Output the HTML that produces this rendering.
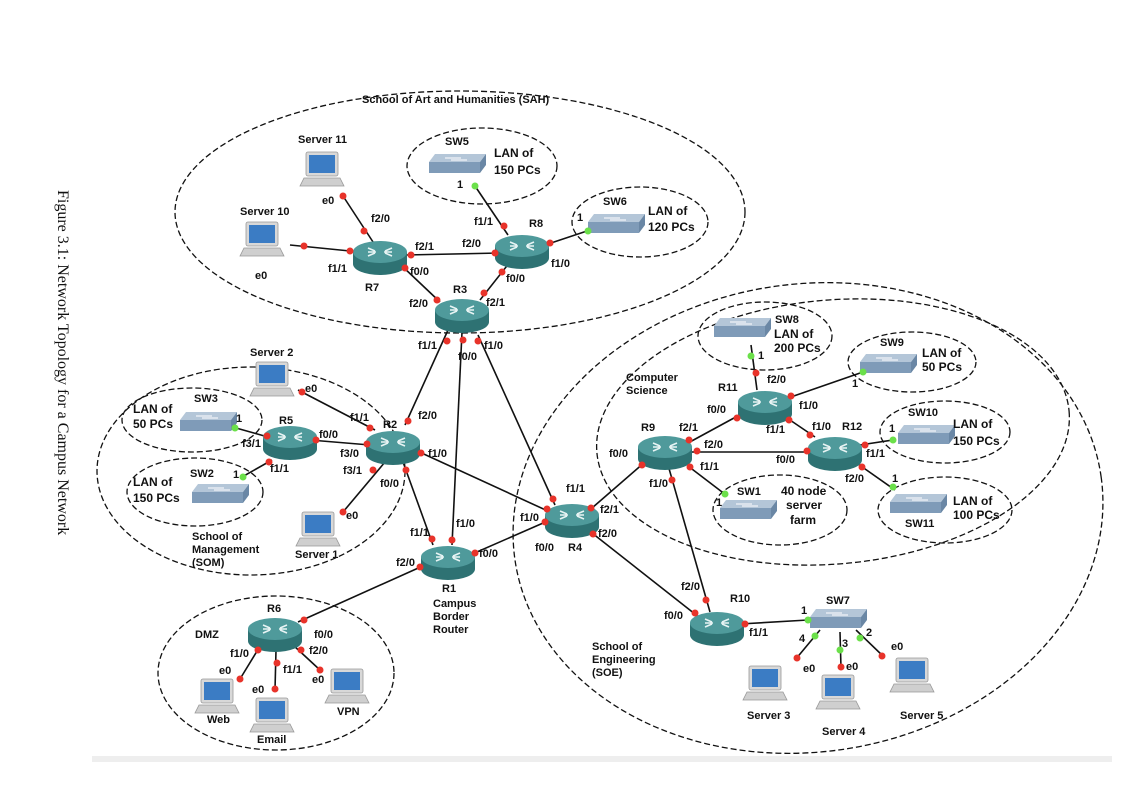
<!DOCTYPE html>
<html><head><meta charset="utf-8"><style>
body{margin:0;background:#fff}
svg{display:block}
text{font-family:"Liberation Sans",sans-serif;font-weight:bold;font-size:11px;fill:#111}
.e{fill:none;stroke:#111;stroke-width:1.3;stroke-dasharray:6 3}
.l{stroke:#111;stroke-width:1.6}
.r{fill:#e8332a}
.g{fill:#6be04a}
</style></head><body>
<svg width="1138" height="798" viewBox="0 0 1138 798" xmlns="http://www.w3.org/2000/svg">
<defs>
<g id="rt">
<path d="M-27,-3 v12 a27,11 0 0 0 54,0 v-12z" fill="#2e7273"/>
<ellipse cx="0" cy="-3" rx="27" ry="11" fill="#4f9a9b"/>
<path d="M-12,-7 l7,3 M-12,1 l7,-3 M12,-7 l-7,3 M12,1 l-7,-3 M-4,-3h-8 M4,-3h8" stroke="#e8f4f4" stroke-width="1.6"/>
</g>
<g id="sw">
<path d="M-28,-2 h51 l6,-8 h-51z" fill="#b4c6d8"/>
<path d="M-28,-2 h51 v11 h-51z" fill="#7f9bb8"/>
<path d="M23,-2 l6,-8 v11 l-6,8z" fill="#6a87a5"/>
<path d="M-12,-6 h16 M-6,-4 h16" stroke="#fff" stroke-width="1"/>
</g>
<g id="pc">
<rect x="-16" y="-14" width="32" height="24" rx="2" fill="#d8d8d8" stroke="#999" stroke-width=".8"/>
<rect x="-13" y="-11" width="26" height="18" fill="#3b7cc4"/>
<path d="M-18,12 h36 l4,8 h-44z" fill="#cfcfcf" stroke="#999" stroke-width=".8"/>
</g>
</defs>
<rect x="92" y="756" width="1020" height="6" fill="#eeeeee"/>
<text transform="translate(58,190) rotate(90)" style="font-family:'Liberation Serif',serif;font-weight:normal;font-size:16px">Figure 3.1: Network Topology for a Campus Network</text>

<ellipse class="e" cx="460" cy="212" rx="285" ry="121"/>
<ellipse class="e" cx="251" cy="471" rx="154" ry="104"/>
<ellipse class="e" cx="276" cy="673" rx="118" ry="77"/>
<ellipse class="e" cx="808" cy="518" rx="296" ry="234" transform="rotate(-8 808 518)"/>
<ellipse class="e" cx="833" cy="432" rx="237" ry="132" transform="rotate(-5 833 432)"/>
<ellipse class="e" cx="482" cy="166" rx="75" ry="38"/>
<ellipse class="e" cx="640" cy="222" rx="68" ry="35"/>
<ellipse class="e" cx="192" cy="420" rx="70" ry="32"/>
<ellipse class="e" cx="195" cy="492" rx="68" ry="34"/>
<ellipse class="e" cx="765" cy="336" rx="67" ry="34"/>
<ellipse class="e" cx="912" cy="362" rx="64" ry="30"/>
<ellipse class="e" cx="945" cy="432" rx="65" ry="31"/>
<ellipse class="e" cx="945" cy="510" rx="67" ry="33"/>
<ellipse class="e" cx="780" cy="510" rx="67" ry="35"/>

<g class="l">
<line x1="343" y1="196" x2="375" y2="245"/>
<line x1="290" y1="245" x2="360" y2="252"/>
<line x1="405" y1="255" x2="500" y2="253"/>
<line x1="402" y1="266" x2="440" y2="302"/>
<line x1="475" y1="186" x2="508" y2="235"/>
<line x1="545" y1="245" x2="590" y2="230"/>
<line x1="510" y1="262" x2="480" y2="300"/>
<line x1="448" y1="330" x2="405" y2="425"/>
<line x1="462" y1="332" x2="452" y2="545"/>
<line x1="478" y1="335" x2="555" y2="505"/>
<line x1="310" y1="440" x2="370" y2="445"/>
<line x1="415" y1="450" x2="550" y2="512"/>
<line x1="298" y1="390" x2="375" y2="430"/>
<line x1="343" y1="512" x2="385" y2="462"/>
<line x1="236" y1="428" x2="268" y2="437"/>
<line x1="242" y1="477" x2="272" y2="460"/>
<line x1="403" y1="462" x2="433" y2="545"/>
<line x1="470" y1="555" x2="550" y2="520"/>
<line x1="425" y1="565" x2="298" y2="622"/>
<line x1="240" y1="679" x2="262" y2="643"/>
<line x1="275" y1="690" x2="276" y2="650"/>
<line x1="320" y1="670" x2="293" y2="645"/>
<line x1="592" y1="508" x2="645" y2="462"/>
<line x1="592" y1="533" x2="700" y2="618"/>
<line x1="668" y1="465" x2="710" y2="612"/>
<line x1="688" y1="443" x2="745" y2="412"/>
<line x1="690" y1="452" x2="810" y2="452"/>
<line x1="688" y1="466" x2="726" y2="495"/>
<line x1="751" y1="345" x2="757" y2="390"/>
<line x1="788" y1="398" x2="863" y2="372"/>
<line x1="787" y1="418" x2="815" y2="437"/>
<line x1="860" y1="445" x2="893" y2="440"/>
<line x1="858" y1="464" x2="895" y2="490"/>
<line x1="740" y1="624" x2="808" y2="620"/>
<line x1="820" y1="630" x2="795" y2="660"/>
<line x1="840" y1="632" x2="841" y2="668"/>
<line x1="856" y1="630" x2="884" y2="657"/>
</g>

<use href="#rt" x="380" y="255"/>
<use href="#rt" x="522" y="249"/>
<use href="#rt" x="462" y="313"/>
<use href="#rt" x="393" y="445"/>
<use href="#rt" x="290" y="440"/>
<use href="#rt" x="448" y="560"/>
<use href="#rt" x="572" y="518"/>
<use href="#rt" x="275" y="632"/>
<use href="#rt" x="665" y="450"/>
<use href="#rt" x="765" y="405"/>
<use href="#rt" x="835" y="451"/>
<use href="#rt" x="717" y="626"/>

<use href="#sw" x="457" y="164"/>
<use href="#sw" x="616" y="224"/>
<use href="#sw" x="208" y="422"/>
<use href="#sw" x="220" y="494"/>
<use href="#sw" x="742" y="328"/>
<use href="#sw" x="888" y="364"/>
<use href="#sw" x="926" y="435"/>
<use href="#sw" x="918" y="504"/>
<use href="#sw" x="748" y="510"/>
<use href="#sw" x="838" y="619"/>

<use href="#pc" x="322" y="166"/>
<use href="#pc" x="262" y="236"/>
<use href="#pc" x="272" y="376"/>
<use href="#pc" x="318" y="526"/>
<use href="#pc" x="217" y="693"/>
<use href="#pc" x="272" y="712"/>
<use href="#pc" x="347" y="683"/>
<use href="#pc" x="765" y="680"/>
<use href="#pc" x="838" y="689"/>
<use href="#pc" x="912" y="672"/>

<g class="r">
<circle cx="343" cy="196" r="3.5"/><circle cx="364" cy="231" r="3.5"/>
<circle cx="304" cy="246" r="3.5"/><circle cx="350" cy="251" r="3.5"/>
<circle cx="411" cy="255" r="3.5"/><circle cx="495" cy="253" r="3.5"/>
<circle cx="405" cy="268" r="3.5"/><circle cx="437" cy="300" r="3.5"/>
<circle cx="504" cy="226" r="3.5"/><circle cx="550" cy="243" r="3.5"/>
<circle cx="502" cy="272" r="3.5"/><circle cx="484" cy="293" r="3.5"/>
<circle cx="447" cy="341" r="3.5"/><circle cx="463" cy="340" r="3.5"/><circle cx="478" cy="341" r="3.5"/>
<circle cx="408" cy="421" r="3.5"/><circle cx="452" cy="540" r="3.5"/><circle cx="553" cy="499" r="3.5"/>
<circle cx="316" cy="440" r="3.5"/><circle cx="367" cy="444" r="3.5"/>
<circle cx="421" cy="453" r="3.5"/><circle cx="547" cy="509" r="3.5"/>
<circle cx="302" cy="392" r="3.5"/><circle cx="370" cy="428" r="3.5"/>
<circle cx="343" cy="512" r="3.5"/><circle cx="373" cy="470" r="3.5"/>
<circle cx="267" cy="436" r="3.5"/><circle cx="269" cy="462" r="3.5"/>
<circle cx="406" cy="470" r="3.5"/><circle cx="432" cy="539" r="3.5"/>
<circle cx="475" cy="553" r="3.5"/><circle cx="545" cy="522" r="3.5"/>
<circle cx="420" cy="567" r="3.5"/><circle cx="304" cy="620" r="3.5"/>
<circle cx="240" cy="679" r="3.5"/><circle cx="258" cy="650" r="3.5"/>
<circle cx="275" cy="689" r="3.5"/><circle cx="277" cy="663" r="3.5"/>
<circle cx="320" cy="670" r="3.5"/><circle cx="301" cy="650" r="3.5"/>
<circle cx="591" cy="508" r="3.5"/><circle cx="642" cy="465" r="3.5"/>
<circle cx="593" cy="534" r="3.5"/><circle cx="695" cy="613" r="3.5"/>
<circle cx="672" cy="480" r="3.5"/><circle cx="706" cy="600" r="3.5"/>
<circle cx="689" cy="440" r="3.5"/><circle cx="737" cy="418" r="3.5"/>
<circle cx="697" cy="451" r="3.5"/><circle cx="807" cy="451" r="3.5"/>
<circle cx="690" cy="467" r="3.5"/>
<circle cx="756" cy="373" r="3.5"/><circle cx="791" cy="396" r="3.5"/>
<circle cx="789" cy="420" r="3.5"/><circle cx="810" cy="435" r="3.5"/>
<circle cx="865" cy="445" r="3.5"/><circle cx="862" cy="467" r="3.5"/>
<circle cx="745" cy="624" r="3.5"/>
<circle cx="797" cy="658" r="3.5"/><circle cx="841" cy="667" r="3.5"/><circle cx="882" cy="656" r="3.5"/>
</g>
<g class="g">
<circle cx="475" cy="186" r="3.5"/><circle cx="588" cy="231" r="3.5"/>
<circle cx="235" cy="428" r="3.5"/><circle cx="243" cy="477" r="3.5"/>
<circle cx="751" cy="356" r="3.5"/><circle cx="863" cy="372" r="3.5"/>
<circle cx="893" cy="440" r="3.5"/><circle cx="893" cy="487" r="3.5"/>
<circle cx="725" cy="494" r="3.5"/>
<circle cx="808" cy="620" r="3.5"/><circle cx="815" cy="636" r="3.5"/><circle cx="840" cy="650" r="3.5"/><circle cx="860" cy="638" r="3.5"/>
</g>

<text x="362" y="103">School of Art and Humanities (SAH)</text>
<text x="298" y="143">Server 11</text>
<text x="240" y="215">Server 10</text>
<text x="255" y="279">e0</text>
<text x="322" y="204">e0</text>
<text x="371" y="222">f2/0</text>
<text x="328" y="272">f1/1</text>
<text x="415" y="250">f2/1</text>
<text x="410" y="275">f0/0</text>
<text x="365" y="291">R7</text>
<text x="462" y="247">f2/0</text>
<text x="474" y="225">f1/1</text>
<text x="529" y="227">R8</text>
<text x="551" y="267">f1/0</text>
<text x="506" y="282">f0/0</text>
<text x="486" y="306">f2/1</text>
<text x="409" y="307">f2/0</text>
<text x="453" y="293">R3</text>
<text x="445" y="145">SW5</text>
<text x="494" y="157" style="font-size:12px">LAN of</text>
<text x="494" y="174" style="font-size:12px">150 PCs</text>
<text x="457" y="188">1</text>
<text x="603" y="205">SW6</text>
<text x="648" y="215" style="font-size:12px">LAN of</text>
<text x="648" y="231" style="font-size:12px">120 PCs</text>
<text x="577" y="221">1</text>
<text x="418" y="349">f1/1</text>
<text x="458" y="360">f0/0</text>
<text x="484" y="349">f1/0</text>

<text x="250" y="356">Server 2</text>
<text x="305" y="392">e0</text>
<text x="350" y="421">f1/1</text>
<text x="418" y="419">f2/0</text>
<text x="383" y="428">R2</text>
<text x="319" y="438">f0/0</text>
<text x="340" y="457">f3/0</text>
<text x="343" y="474">f3/1</text>
<text x="428" y="457">f1/0</text>
<text x="380" y="487">f0/0</text>
<text x="346" y="519">e0</text>
<text x="295" y="558">Server 1</text>
<text x="279" y="424">R5</text>
<text x="242" y="447">f3/1</text>
<text x="270" y="472">f1/1</text>
<text x="194" y="402">SW3</text>
<text x="133" y="413" style="font-size:12px">LAN of</text>
<text x="133" y="428" style="font-size:12px">50 PCs</text>
<text x="236" y="422">1</text>
<text x="190" y="477">SW2</text>
<text x="133" y="486" style="font-size:12px">LAN of</text>
<text x="133" y="502" style="font-size:12px">150 PCs</text>
<text x="233" y="478">1</text>
<text x="192" y="540">School of</text>
<text x="192" y="553">Management</text>
<text x="192" y="566">(SOM)</text>

<text x="410" y="536">f1/1</text>
<text x="456" y="527">f1/0</text>
<text x="396" y="566">f2/0</text>
<text x="479" y="557">f0/0</text>
<text x="442" y="592">R1</text>
<text x="433" y="607">Campus</text>
<text x="433" y="620">Border</text>
<text x="433" y="633">Router</text>
<text x="267" y="612">R6</text>
<text x="195" y="638">DMZ</text>
<text x="314" y="638">f0/0</text>
<text x="230" y="657">f1/0</text>
<text x="309" y="654">f2/0</text>
<text x="283" y="673">f1/1</text>
<text x="219" y="674">e0</text>
<text x="252" y="693">e0</text>
<text x="312" y="683">e0</text>
<text x="207" y="723">Web</text>
<text x="257" y="743">Email</text>
<text x="337" y="715">VPN</text>

<text x="566" y="492">f1/1</text>
<text x="520" y="521">f1/0</text>
<text x="600" y="513">f2/1</text>
<text x="598" y="537">f2/0</text>
<text x="535" y="551">f0/0</text>
<text x="568" y="551">R4</text>
<text x="626" y="381">Computer</text>
<text x="626" y="394">Science</text>
<text x="641" y="431">R9</text>
<text x="609" y="457">f0/0</text>
<text x="679" y="431">f2/1</text>
<text x="704" y="448">f2/0</text>
<text x="700" y="470">f1/1</text>
<text x="649" y="487">f1/0</text>
<text x="707" y="413">f0/0</text>
<text x="718" y="391">R11</text>
<text x="767" y="383">f2/0</text>
<text x="799" y="409">f1/0</text>
<text x="766" y="433">f1/1</text>
<text x="812" y="430">f1/0</text>
<text x="842" y="430">R12</text>
<text x="776" y="463">f0/0</text>
<text x="866" y="457">f1/1</text>
<text x="845" y="482">f2/0</text>
<text x="775" y="323">SW8</text>
<text x="774" y="338" style="font-size:12px">LAN of</text>
<text x="774" y="352" style="font-size:12px">200 PCs</text>
<text x="758" y="359">1</text>
<text x="880" y="346">SW9</text>
<text x="922" y="357" style="font-size:12px">LAN of</text>
<text x="922" y="371" style="font-size:12px">50 PCs</text>
<text x="852" y="387">1</text>
<text x="908" y="416">SW10</text>
<text x="953" y="428" style="font-size:12px">LAN of</text>
<text x="953" y="445" style="font-size:12px">150 PCs</text>
<text x="889" y="432">1</text>
<text x="892" y="482">1</text>
<text x="953" y="505" style="font-size:12px">LAN of</text>
<text x="953" y="519" style="font-size:12px">100 PCs</text>
<text x="905" y="527">SW11</text>
<text x="737" y="495">SW1</text>
<text x="716" y="506">1</text>
<text x="781" y="495" style="font-size:12px">40 node</text>
<text x="786" y="509" style="font-size:12px">server</text>
<text x="790" y="524" style="font-size:12px">farm</text>

<text x="681" y="590">f2/0</text>
<text x="664" y="619">f0/0</text>
<text x="730" y="602">R10</text>
<text x="749" y="636">f1/1</text>
<text x="592" y="650">School of</text>
<text x="592" y="663">Engineering</text>
<text x="592" y="676">(SOE)</text>
<text x="826" y="604">SW7</text>
<text x="801" y="614">1</text>
<text x="799" y="642">4</text>
<text x="842" y="647">3</text>
<text x="866" y="636">2</text>
<text x="891" y="650">e0</text>
<text x="803" y="672">e0</text>
<text x="846" y="670">e0</text>
<text x="747" y="719">Server 3</text>
<text x="822" y="735">Server 4</text>
<text x="900" y="719">Server 5</text>
</svg>
</body></html>
